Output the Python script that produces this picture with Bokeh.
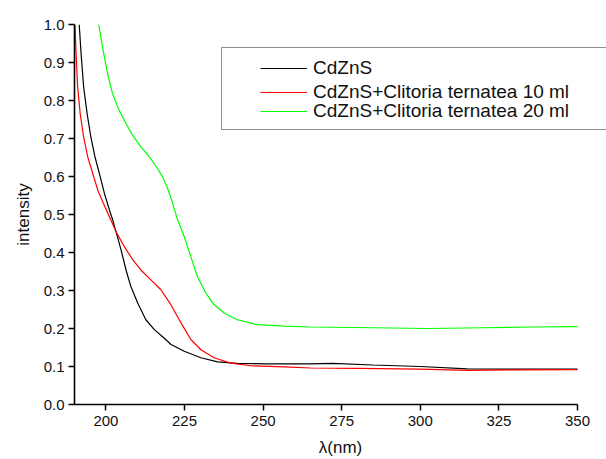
from bokeh.plotting import figure
from bokeh.models import Range1d, FixedTicker, PrintfTickFormatter, Legend, LegendItem
from bokeh.embed import file_html
from bokeh.resources import INLINE

# ---- data ----
cdzns_x = [191.5, 192.1, 192.9, 194.0, 195.2, 196.5, 197.9, 199.5, 201.1, 202.1,
           203.2, 204.8, 206.4, 207.9, 210.1, 212.7, 215.4, 218.5, 220.7, 224.9,
           230.2, 235.5, 241.8, 251.4, 265.1, 272.0, 285.0, 300.0, 315.0, 330.0, 350.0]
cdzns_y = [1.0, 0.923, 0.836, 0.766, 0.704, 0.652, 0.608, 0.556, 0.512, 0.487,
           0.455, 0.407, 0.354, 0.311, 0.267, 0.223, 0.197, 0.175, 0.158, 0.140,
           0.123, 0.112, 0.108, 0.107, 0.107, 0.108, 0.104, 0.100, 0.094, 0.093, 0.093]

ct10_x = [190.15, 190.5, 191.0, 191.8, 192.9, 194.2, 195.8, 197.4, 199.0, 201.1,
          203.2, 205.8, 208.5, 211.1, 214.3, 217.5, 220.7, 223.8, 227.0, 230.2,
          234.4, 239.7, 246.1, 256.7, 265.1, 280.0, 300.0, 315.0, 330.0, 350.0]
ct10_y = [1.0, 0.923, 0.836, 0.766, 0.704, 0.652, 0.608, 0.564, 0.533, 0.494,
          0.455, 0.416, 0.381, 0.354, 0.328, 0.302, 0.262, 0.216, 0.171, 0.144,
          0.123, 0.109, 0.102, 0.099, 0.096, 0.095, 0.093, 0.090, 0.091, 0.092]

ct20_x = [197.7, 198.9, 200.5, 202.1, 204.2, 206.4, 208.5, 211.1, 213.8, 216.4,
          218.0, 219.5, 220.9, 222.8, 224.9, 227.0, 229.1, 231.8, 234.4, 237.6,
          241.8, 248.2, 256.7, 265.1, 285.0, 302.0, 320.0, 335.0, 350.0]
ct20_y = [1.0, 0.941, 0.871, 0.818, 0.774, 0.739, 0.709, 0.678, 0.652, 0.621,
          0.599, 0.571, 0.538, 0.486, 0.442, 0.389, 0.337, 0.293, 0.263, 0.241,
          0.223, 0.210, 0.206, 0.204, 0.202, 0.200, 0.202, 0.204, 0.205]

series_names = ["CdZnS", "CdZnS+Clitoria ternatea 10 ml", "CdZnS+Clitoria ternatea 20 ml"]
series_colors = ["#000000", "#ff0000", "#00ff00"]

x_ticks = [200, 225, 250, 275, 300, 325, 350]
y_ticks = [0.0, 0.1, 0.2, 0.3, 0.4, 0.5, 0.6, 0.7, 0.8, 0.9, 1.0]

FONT = "Liberation Sans"

# frame reaches the right edge of the page so the legend box can run off it;
# the x axis itself is bounded to 190..350
p = figure(width=606, height=459, output_backend="svg", toolbar_location=None,
           x_range=Range1d(190, 359.23), y_range=Range1d(0, 1.0),
           min_border_left=74, min_border_right=0, min_border_top=24, min_border_bottom=54,
           x_axis_label="λ(nm)", y_axis_label="intensity")
p.outline_line_color = None
p.grid.visible = False
p.background_fill_color = "white"
p.border_fill_color = "white"

for ax in (p.xaxis[0], p.yaxis[0]):
    ax.axis_line_width = 1.6
    ax.axis_line_color = "#000000"
    ax.major_tick_line_width = 1.5
    ax.major_tick_line_color = "#000000"
    ax.major_tick_out = 6
    ax.major_tick_in = 0
    ax.minor_tick_line_color = None
    ax.major_label_text_font = FONT
    ax.major_label_text_font_size = "15px"
    ax.major_label_text_color = "#111111"
    ax.axis_label_text_font = FONT
    ax.axis_label_text_font_style = "normal"
    ax.axis_label_text_font_size = "17px"
    ax.axis_label_text_color = "#111111"

p.xaxis[0].ticker = FixedTicker(ticks=x_ticks)
p.xaxis[0].bounds = (190, 350)
p.xaxis[0].formatter = PrintfTickFormatter(format="%d")
p.xaxis[0].major_label_standoff = 5
p.xaxis[0].axis_label_standoff = 9
p.yaxis[0].ticker = FixedTicker(ticks=y_ticks)
p.yaxis[0].formatter = PrintfTickFormatter(format="%.1f")
p.yaxis[0].major_label_standoff = 4
p.yaxis[0].axis_label_standoff = 8

r1 = p.line(cdzns_x, cdzns_y, line_color=series_colors[0], line_width=1.2)
r2 = p.line(ct10_x, ct10_y, line_color=series_colors[1], line_width=1.2)
r3 = p.line(ct20_x, ct20_y, line_color=series_colors[2], line_width=1.2)

# legend frame (a legend whose only visible part is its border)
dummy = p.line(x=[], y=[], line_color=None, line_alpha=0)
frame_legend = Legend(items=[LegendItem(label=" ", renderers=[dummy])],
                      location=(147, 274), padding=0, margin=0, spacing=0,
                      glyph_width=1, glyph_height=81, label_width=389, label_height=81,
                      label_standoff=0, label_text_font_size="1px",
                      border_line_color="#222222", border_line_width=1.2,
                      background_fill_color="white", background_fill_alpha=1)
p.add_layout(frame_legend)

row_offsets = [323, 299, 280]
for r, name, yoff in zip([r1, r2, r3], series_names, row_offsets):
    lg = Legend(items=[LegendItem(label=name, renderers=[r])],
                location=(186, yoff), padding=0, margin=0, spacing=0,
                glyph_width=47, glyph_height=26, label_height=26,
                label_standoff=6, label_text_font=FONT, label_text_font_size="19px",
                label_text_color="#111111",
                border_line_alpha=0, background_fill_alpha=0)
    p.add_layout(lg)

open("out.html", "w").write(file_html(p, INLINE))
